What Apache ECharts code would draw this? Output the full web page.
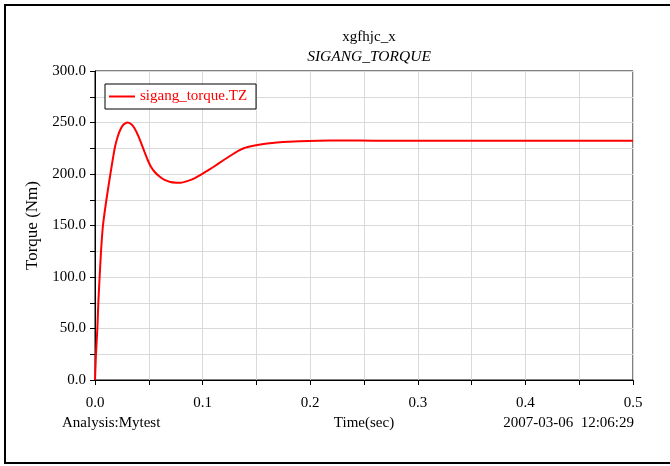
<!DOCTYPE html>
<html><head><meta charset="utf-8">
<script src="https://cdn.jsdelivr.net/npm/echarts@6/dist/echarts.min.js"></script>
<style>html,body{margin:0;padding:0;background:#fff}#c{width:670px;height:466px}</style>
</head><body><div id="c"></div>
<script>
const seriesName = 'sigang_torque.TZ';
const timeSec = [0, 0.0009, 0.0022, 0.0031, 0.0043, 0.0056, 0.0074, 0.0106, 0.0143, 0.0185, 0.021, 0.0235, 0.0265, 0.030, 0.0335, 0.0367, 0.040, 0.043, 0.046, 0.049, 0.052, 0.0553, 0.060, 0.0646, 0.070, 0.0755, 0.0795, 0.085, 0.0925, 0.100, 0.110, 0.120, 0.128, 0.134, 0.139, 0.145, 0.151, 0.16, 0.1745, 0.19, 0.207, 0.23, 0.26, 0.3, 0.35, 0.4, 0.45, 0.5];
const torque = [0, 25, 50, 75, 100, 125, 150, 175, 200, 226, 236, 243, 248, 250, 248.5, 244.4, 237.5, 229.8, 221.5, 213.6, 207, 202.2, 197.5, 194.2, 192.3, 191.6, 191.5, 192.8, 195.8, 200.3, 206.8, 213.8, 219.2, 223.0, 225.3, 226.9, 228.2, 229.5, 231.1, 231.8, 232.3, 232.5, 232.4, 232.3, 232.3, 232.3, 232.3, 232.2];
const titleMain = 'xgfhjc_x';
const titleSub = 'SIGANG_TORQUE';
const yAxisName = 'Torque (Nm)';
const xAxisName = 'Time(sec)';
const footLeft = 'Analysis:Mytest';
const footRight = '2007-03-06  12:06:29';

const font = '"Liberation Serif", "Times New Roman", serif';
const chart = echarts.init(document.getElementById('c'));
const data = timeSec.map((t, i) => [t, torque[i]]);
chart.setOption({
  animation: false,
  backgroundColor: '#fff',
  title: [
    {text: titleMain, left: 364, top: 25, textAlign: 'center',
     textStyle: {fontFamily: font, fontSize: 15, fontWeight: 'normal', color: '#000'}},
    {text: titleSub, left: 364, top: 44, textAlign: 'center',
     textStyle: {fontFamily: font, fontSize: 15.5, fontWeight: 'normal', fontStyle: 'italic', color: '#000'}}
  ],
  legend: {
    left: 105, top: 84,
    data: [{name: seriesName, icon: 'rect'}],
    itemWidth: 26, itemHeight: 2, itemGap: 4,
    padding: [5, 9, 5, 4],
    backgroundColor: '#fff', borderColor: '#000', borderWidth: 1, borderRadius: 0,
    textStyle: {fontFamily: font, fontSize: 15, color: '#ff0000', padding: [0, 0, 0, 0]}
  },
  grid: {left: 95, right: 37, top: 71, bottom: 86, show: true, borderColor: '#000', borderWidth: 1},
  xAxis: {
    type: 'value', min: 0, max: 0.5, interval: 0.05,
    axisLine: {show: true, onZero: false, lineStyle: {color: '#000', width: 1}},
    axisTick: {show: true, inside: false, length: 5, lineStyle: {color: '#000'}},
    axisLabel: {
      fontFamily: font, fontSize: 15, color: '#000', margin: 16, showMaxLabel: true,
      formatter: v => (Math.abs(v * 10 - Math.round(v * 10)) < 1e-6 ? v.toFixed(1) : '')
    },
    splitLine: {show: true, lineStyle: {color: '#d9d9d9', width: 1}}
  },
  yAxis: {
    type: 'value', min: 0, max: 300, interval: 25,
    name: yAxisName, nameLocation: 'middle', nameGap: 46,
    nameTextStyle: {fontFamily: font, fontSize: 17, color: '#000'},
    axisLine: {show: true, lineStyle: {color: '#000', width: 1}},
    axisTick: {show: true, inside: false, length: 5, lineStyle: {color: '#000'}},
    axisLabel: {
      fontFamily: font, fontSize: 15, color: '#000', margin: 9,
      formatter: v => (v % 50 === 0 ? v.toFixed(1) : '')
    },
    splitLine: {show: true, lineStyle: {color: '#d9d9d9', width: 1}}
  },
  series: [{
    name: seriesName, type: 'line', data: data, smooth: 0.15, symbol: 'none',
    lineStyle: {color: '#ff0000', width: 2}, itemStyle: {color: '#ff0000'}
  }],
  graphic: [
    {type: 'rect', shape: {x: 5, y: 5, width: 700, height: 458}, style: {fill: 'none', stroke: '#000', lineWidth: 2}, silent: true},
    {type: 'text', left: 62, top: 416, style: {text: footLeft, font: '15px ' + font, fill: '#000'}},
    {type: 'text', x: 364, y: 416, style: {text: xAxisName, font: '15px ' + font, fill: '#000', textAlign: 'center'}},
    {type: 'text', x: 634, y: 416, style: {text: footRight, font: '15px ' + font, fill: '#000', textAlign: 'right'}}
  ]
});
</script></body></html>
